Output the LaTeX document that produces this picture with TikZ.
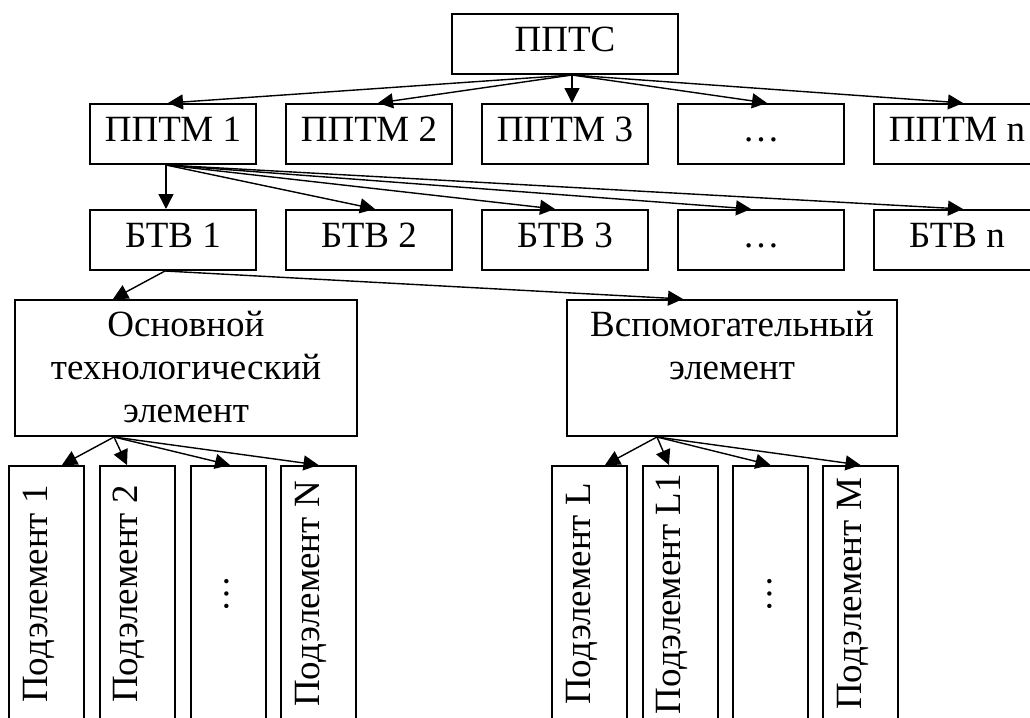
\documentclass[tikz,border=0pt]{standalone}
\usepackage{fontspec}
\setmainfont{Liberation Serif}
\usetikzlibrary{arrows.meta,calc}
\begin{document}
\begin{tikzpicture}[x=0.5pt,y=-0.5pt,
  font=\fontsize{18.5}{21.5}\selectfont,
  box/.style={draw, line width=1pt, inner sep=0pt, minimum width=#1*0.5pt,
    minimum height=30pt, text height=18.5pt, text depth=11.5pt},
  big/.style={draw, line width=1pt, inner sep=0pt, minimum width=#1*0.5pt,
    minimum height=68pt, text height=18pt, text depth=50pt},
  subbox/.style={draw, line width=1pt, inner sep=0pt, rotate=90,
    minimum width=128pt, minimum height=37.5pt, text height=19pt, text depth=18.5pt},
  arr/.style={-{Triangle[length=7.5pt,width=7.5pt]}, line width=0.7pt}]
\clip (0,0) rectangle (1030,718);
% top
\node[box=226] (ppts) at (565,44) {ППТС};
% PPTM row
\node[box=166] (pptm1) at (173,134) {ППТМ 1};
\node[box=166] (pptm2) at (369,134) {ППТМ 2};
\node[box=166] (pptm3) at (565,134) {ППТМ 3};
\node[box=166] (pptmd) at (761,134) {…};
\node[box=166] (pptmn) at (957,134) {ППТМ n};
% BTV row
\node[box=166] (btv1) at (173,240) {БТВ 1};
\node[box=166] (btv2) at (369,240) {БТВ 2};
\node[box=166] (btv3) at (565,240) {БТВ 3};
\node[box=166] (btvd) at (761,240) {…};
\node[box=166] (btvn) at (957,240) {БТВ n};
% elements
\node[big=342] (osn) at (186,368) {\begin{tabular}[t]{@{}c@{}}Основной\\технологический\\элемент\end{tabular}};
\node[big=330] (vsp) at (732,368) {\begin{tabular}[t]{@{}c@{}}Вспомогательный\\элемент\end{tabular}};
% sub-elements
\node[subbox] (p1) at (46.5,594) {Подэлемент 1};
\node[subbox] (p2) at (137,594) {Подэлемент 2};
\node[subbox] (p3) at (228,594) {…};
\node[subbox] (p4) at (318.5,594) {Подэлемент N};
\node[subbox] (q1) at (589.5,594) {Подэлемент L};
\node[subbox] (q2) at (680,594) {Подэлемент L1};
\node[subbox] (q3) at (770.5,594) {…};
\node[subbox] (q4) at (860.5,594) {Подэлемент M};
% connectors
\coordinate (s0) at ($(ppts.south)+(7,0)$);
\draw[arr] (s0) -- ($(pptm1.north)+(-5,0)$);
\draw[arr] (s0) -- ($(pptm2.north)+(9,0)$);
\draw[arr] (s0) -- ($(pptm3.north)+(7,0)$);
\draw[arr] (s0) -- ($(pptmd.north)+(6,0)$);
\draw[arr] (s0) -- ($(pptmn.north)+(6,0)$);
\coordinate (s1) at ($(pptm1.south)+(-7,0)$);
\draw[arr] (s1) -- ($(btv1.north)+(-7,0)$);
\draw[arr] (s1) -- ($(btv2.north)+(6,0)$);
\draw[arr] (s1) -- ($(btv3.north)+(-10,0)$);
\draw[arr] (s1) -- ($(btvd.north)+(-10,0)$);
\draw[arr] (s1) -- ($(btvn.north)+(6,0)$);
\coordinate (s2) at ($(btv1.south)+(-8,0)$);
\draw[arr] (s2) -- ($(osn.north)+(-73,0)$);
\draw[arr] (s2) -- ($(vsp.north)+(-49,0)$);
\coordinate (s3) at ($(osn.south)+(-72,0)$);
\draw[arr] (s3) -- ($(p1.east)+(15.5,0)$);
\draw[arr] (s3) -- ($(p2.east)+(-10,0)$);
\draw[arr] (s3) -- ($(p3.east)+(2,0)$);
\draw[arr] (s3) -- (p4.east);
\coordinate (s4) at ($(vsp.south)+(-75,0)$);
\draw[arr] (s4) -- ($(q1.east)+(15.5,0)$);
\draw[arr] (s4) -- ($(q2.east)+(-11,0)$);
\draw[arr] (s4) -- (q3.east);
\draw[arr] (s4) -- (q4.east);
\end{tikzpicture}
\end{document}
